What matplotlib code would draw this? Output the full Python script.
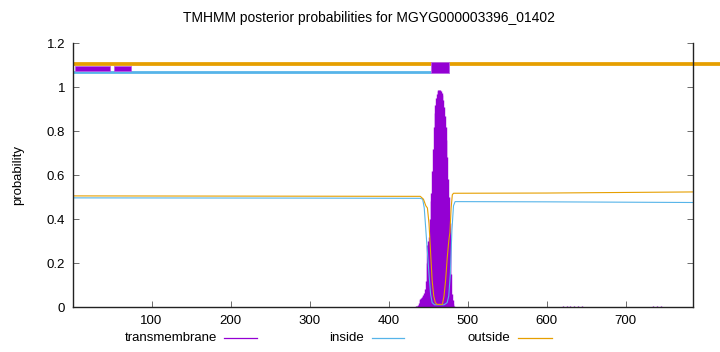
import matplotlib
matplotlib.use("Agg")
import matplotlib.pyplot as plt
from matplotlib.lines import Line2D
from matplotlib.patches import Rectangle

plt.rcParams['font.family'] = ['Liberation Sans', 'DejaVu Sans']
plt.rcParams['font.size'] = 9.5

seq_len = 785

# transmembrane posterior, per residue (only the non-zero stretch)
tm_pos = list(range(435, 485))
tm_prob = [0.004, 0.006, 0.01, 0.02, 0.03, 0.035, 0.04, 0.045, 0.05, 0.055,
           0.065, 0.08, 0.12, 0.2, 0.28, 0.3, 0.32, 0.4, 0.48, 0.52,
           0.62, 0.72, 0.82, 0.88, 0.92, 0.95, 0.97, 0.98, 0.985, 0.985,
           0.985, 0.98, 0.975, 0.965, 0.94, 0.91, 0.87, 0.82, 0.76, 0.68,
           0.58, 0.5, 0.38, 0.28, 0.15, 0.06, 0.03, 0.012, 0.005, 0.002]
# tiny bumps further along
tm_pos2 = [615, 620, 625, 630, 635, 640, 645, 650, 730, 735, 740, 745, 750]
tm_prob2 = [0.002, 0.003, 0.004, 0.004, 0.003, 0.003, 0.003, 0.002,
            0.002, 0.003, 0.003, 0.003, 0.002]

inside_x = [1, 300, 440, 443, 445, 447, 449, 451, 453, 455, 458, 470, 474,
            476, 478, 480, 482, 484, 600, 785]
inside_y = [0.496, 0.495, 0.494, 0.49, 0.45, 0.35, 0.25, 0.15, 0.06, 0.02,
            0.01, 0.01, 0.02, 0.05, 0.15, 0.35, 0.46, 0.479, 0.478, 0.475]

outside_x = [1, 440, 444, 447, 449, 451, 453, 455, 457, 459, 461, 468, 470,
             472, 474, 476, 477.5, 479, 480.5, 482, 600, 785]
outside_y = [0.505, 0.503, 0.49, 0.46, 0.45, 0.38, 0.25, 0.12, 0.05, 0.02,
             0.012, 0.012, 0.05, 0.12, 0.22, 0.3, 0.34, 0.45, 0.51, 0.517,
             0.518, 0.523]

# topology bar segments at the top
outside_seg = (1, 819)
inside_seg = (1, 453)
tm_boxes = [(3, 48, 1.075, 1.097), (52, 74, 1.075, 1.097), (454, 476, 1.062, 1.112)]

c_tm = '#9400d3'
c_in = '#56b4e9'
c_out = '#e69f00'

fig = plt.figure(figsize=(7.2, 3.52), dpi=100)
ax = fig.add_axes([73.3 / 720, 45 / 352, (693 - 73.3) / 720, 264 / 352])

ax.vlines(tm_pos, 0, tm_prob, color=c_tm, lw=1.0)
ax.vlines(tm_pos2, 0, tm_prob2, color=c_tm, lw=1.0)
ax.plot(inside_x, inside_y, color=c_in, lw=0.8)
ax.plot(outside_x, outside_y, color=c_out, lw=0.8)

ax.plot(outside_seg, [1.105, 1.105], color=c_out, lw=2.7, clip_on=False,
        solid_capstyle='butt')
ax.plot(inside_seg, [1.067, 1.067], color=c_in, lw=2.0, solid_capstyle='butt')
for x0, x1, y0, y1 in tm_boxes:
    ax.add_patch(Rectangle((x0, y0), x1 - x0, y1 - y0, facecolor=c_tm,
                           edgecolor='#b760e6', lw=0.6, zorder=3))

ax.set_xlim(1, seq_len)
ax.set_ylim(0, 1.2)
ax.set_xticks([100, 200, 300, 400, 500, 600, 700])
ax.set_yticks([0, 0.2, 0.4, 0.6, 0.8, 1.0, 1.2])
ax.set_yticklabels(['0', '0.2', '0.4', '0.6', '0.8', '1', '1.2'])
ax.tick_params(direction='in', length=4, width=0.6, color='#555555', pad=6)
ax.tick_params(axis='y', right=True)
ax.spines['top'].set_visible(False)
for s in ['left', 'right', 'bottom']:
    ax.spines[s].set_linewidth(1.0)
    ax.spines[s].set_color('#222222')
ax.set_ylabel('probability', labelpad=14)
ax.yaxis.set_label_coords(-0.08, 0.5)

fig.text(369 / 720, 1 - 18 / 352, 'TMHMM posterior probabilities for MGYG000003396_01402',
         ha='center', va='center', fontsize=10)

leg_y = 1 - 338 / 352
legend_items = [('transmembrane', c_tm, 217, 224, 257),
                ('inside', c_in, 364, 372, 404),
                ('outside', c_out, 510, 518, 552)]
for label, col, tx, l0, l1 in legend_items:
    fig.text(tx / 720, leg_y, label, ha='right', va='center')
    fig.add_artist(Line2D([l0 / 720, l1 / 720], [leg_y, leg_y], color=col, lw=0.9))

fig.savefig('out.png', dpi=100)
